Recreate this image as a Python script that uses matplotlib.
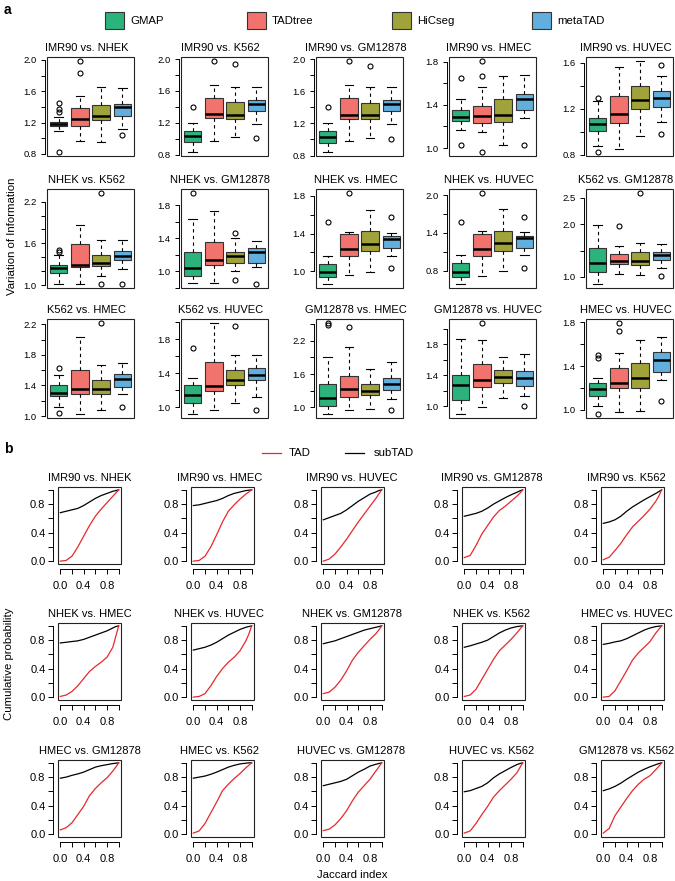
import numpy as np
import matplotlib.pyplot as plt
from matplotlib.patches import Rectangle
from matplotlib.lines import Line2D

plt.rcParams['font.family'] = ['Liberation Sans', 'DejaVu Sans']

W, H = 675, 881

# ---------------- panel a data ----------------
methods = ['GMAP', 'TADtree', 'HiCseg', 'metaTAD']
method_colors = ['#2bb37b', '#f2736d', '#a0a23a', '#62aedc']

pairs_a = ['IMR90 vs. NHEK', 'IMR90 vs. K562', 'IMR90 vs. GM12878', 'IMR90 vs. HMEC', 'IMR90 vs. HUVEC',
           'NHEK vs. K562', 'NHEK vs. GM12878', 'NHEK vs. HMEC', 'NHEK vs. HUVEC', 'K562 vs. GM12878',
           'K562 vs. HMEC', 'K562 vs. HUVEC', 'GM12878 vs. HMEC', 'GM12878 vs. HUVEC', 'HMEC vs. HUVEC']

# box stats per panel: [lower whisker, q1, median, q3, upper whisker]
gmap_box = [[1.09, 1.154, 1.179, 1.213, 1.276], [0.83, 0.955, 1.03, 1.095, 1.20], [0.84, 0.96, 1.035, 1.10, 1.21],
            [1.17, 1.253, 1.29, 1.351, 1.45], [0.878, 1.009, 1.07, 1.12, 1.27],
            [1.01, 1.168, 1.24, 1.288, 1.427], [0.855, 0.936, 1.04, 1.229, 1.63], [0.86, 0.937, 0.99, 1.078, 1.166],
            [0.583, 0.705, 0.774, 0.917, 1.049], [0.86, 1.095, 1.272, 1.544, 1.98],
            [1.122, 1.262, 1.306, 1.40, 1.537], [0.914, 1.051, 1.137, 1.265, 1.343], [0.87, 1.02, 1.167, 1.425, 1.905],
            [0.893, 1.081, 1.274, 1.402, 1.873], [1.03, 1.129, 1.189, 1.241, 1.289]]
gmap_out = [[1.45, 1.37, 1.34, 0.82], [1.40], [1.40], [1.65, 1.03], [1.29, 0.82],
            [1.51, 1.48], [1.95], [1.52], [1.577], [],
            [1.624, 1.035], [1.695], [2.53, 2.48], [], [1.505, 1.475, 0.958]]

tadtree_box = [[0.97, 1.15, 1.24, 1.39, 1.545], [0.975, 1.255, 1.305, 1.515, 1.675], [0.975, 1.255, 1.31, 1.515, 1.675],
               [1.144, 1.229, 1.296, 1.388, 1.565], [0.85, 1.076, 1.155, 1.31, 1.565],
               [1.01, 1.264, 1.288, 1.595, 1.87], [0.855, 1.076, 1.137, 1.358, 1.73], [0.954, 1.166, 1.236, 1.395, 1.42],
               [0.721, 1.038, 1.144, 1.382, 1.434], [1.05, 1.253, 1.30, 1.443, 1.59],
               [1.022, 1.284, 1.349, 1.598, 2.034], [0.961, 1.195, 1.254, 1.531, 1.995], [0.945, 1.185, 1.333, 1.573, 2.09],
               [0.987, 1.252, 1.342, 1.543, 1.856], [0.979, 1.195, 1.241, 1.379, 1.52]]
tadtree_out = [[1.99, 1.83], [1.98], [1.98], [1.81, 1.67, 0.96], [],
               [], [], [1.835], [2.04], [1.97],
               [], [], [2.46], [2.078], [1.797, 1.722]]

hicseg_box = [[0.95, 1.23, 1.29, 1.43, 1.66], [1.02, 1.25, 1.30, 1.46, 1.65], [1.02, 1.25, 1.30, 1.455, 1.65],
              [1.03, 1.244, 1.305, 1.458, 1.67], [0.96, 1.20, 1.28, 1.40, 1.62],
              [1.13, 1.274, 1.32, 1.427, 1.65], [1.0, 1.10, 1.18, 1.229, 1.40], [0.996, 1.21, 1.29, 1.43, 1.65],
              [0.795, 1.112, 1.234, 1.434, 1.773], [1.04, 1.228, 1.30, 1.475, 1.64],
              [1.079, 1.284, 1.358, 1.467, 1.663], [1.051, 1.258, 1.324, 1.441, 1.617], [0.964, 1.222, 1.296, 1.425, 1.70],
              [1.107, 1.30, 1.372, 1.466, 1.629], [0.988, 1.198, 1.289, 1.424, 1.64]]
hicseg_out = [[], [1.94], [1.91], [], [],
              [2.33, 1.02], [1.46, 0.89], [], [], [2.60],
              [2.22], [1.96], [], [], []]

metatad_box = [[1.12, 1.29, 1.40, 1.44, 1.64], [1.19, 1.35, 1.44, 1.49, 1.65], [1.19, 1.35, 1.44, 1.49, 1.65],
               [1.275, 1.357, 1.455, 1.50, 1.675], [1.085, 1.216, 1.295, 1.358, 1.49],
               [1.225, 1.355, 1.42, 1.49, 1.65], [1.048, 1.10, 1.23, 1.277, 1.37], [1.166, 1.243, 1.34, 1.377, 1.405],
               [1.049, 1.165, 1.323, 1.355, 1.408], [1.165, 1.323, 1.418, 1.475, 1.62],
               [1.284, 1.384, 1.48, 1.554, 1.698], [1.121, 1.324, 1.382, 1.46, 1.609], [1.148, 1.314, 1.425, 1.536, 1.813],
               [1.124, 1.265, 1.364, 1.449, 1.672], [1.271, 1.349, 1.451, 1.526, 1.662]]
metatad_out = [[1.04], [1.01], [1.01], [1.03], [1.58, 0.983],
               [1.01], [0.84], [1.58, 1.03], [1.656, 0.837], [1.02],
               [1.118], [0.965], [0.945], [0.996], [1.078]]

# y axis ticks of panel a: step between ticks and the values that carry a label
ytick_step_a = [0.2, 0.2, 0.2, 0.2, 0.2, 0.2, 0.2, 0.2, 0.3, 0.5, 0.2, 0.2, 0.3, 0.2, 0.2]
ytick_lab_a = [[0.8, 1.2, 1.6, 2.0], [0.8, 1.2, 1.6, 2.0], [0.8, 1.2, 1.6, 2.0], [1.0, 1.4, 1.8], [0.8, 1.2, 1.6],
               [1.0, 1.6, 2.2], [1.0, 1.4, 1.8], [1.0, 1.4, 1.8], [0.8, 1.4, 2.0], [1.0, 2.0, 2.5],
               [1.0, 1.4, 1.8, 2.2], [1.0, 1.4, 1.8], [1.0, 1.6, 2.2], [1.0, 1.4, 1.8], [1.0, 1.4, 1.8]]

# ---------------- panel b data ----------------
pairs_b = ['IMR90 vs. NHEK', 'IMR90 vs. HMEC', 'IMR90 vs. HUVEC', 'IMR90 vs. GM12878', 'IMR90 vs. K562',
           'NHEK vs. HMEC', 'NHEK vs. HUVEC', 'NHEK vs. GM12878', 'NHEK vs. K562', 'HMEC vs. HUVEC',
           'HMEC vs. GM12878', 'HMEC vs. K562', 'HUVEC vs. GM12878', 'HUVEC vs. K562', 'GM12878 vs. K562']

jaccard = [0.0, 0.1, 0.2, 0.3, 0.4, 0.5, 0.6, 0.7, 0.8, 0.9, 0.95, 1.0]

tad_cdf = [[0.0, 0.01, 0.07, 0.20, 0.35, 0.50, 0.63, 0.73, 0.82, 0.91, 0.955, 1.0],
           [0.0, 0.01, 0.07, 0.20, 0.37, 0.55, 0.70, 0.79, 0.87, 0.94, 0.97, 1.0],
           [0.0, 0.03, 0.10, 0.20, 0.31, 0.43, 0.55, 0.66, 0.77, 0.88, 0.94, 1.0],
           [0.05, 0.08, 0.22, 0.38, 0.50, 0.62, 0.71, 0.77, 0.84, 0.91, 0.95, 1.0],
           [0.02, 0.055, 0.15, 0.25, 0.37, 0.48, 0.56, 0.64, 0.73, 0.84, 0.91, 1.0],
           [0.01, 0.03, 0.08, 0.16, 0.26, 0.36, 0.43, 0.49, 0.56, 0.70, 0.85, 1.0],
           [0.0, 0.01, 0.05, 0.16, 0.29, 0.40, 0.49, 0.56, 0.65, 0.79, 0.88, 1.0],
           [0.05, 0.07, 0.14, 0.24, 0.37, 0.52, 0.63, 0.72, 0.81, 0.89, 0.94, 1.0],
           [0.01, 0.03, 0.11, 0.25, 0.39, 0.53, 0.65, 0.73, 0.81, 0.90, 0.95, 1.0],
           [0.0, 0.01, 0.09, 0.23, 0.37, 0.52, 0.62, 0.70, 0.78, 0.90, 0.95, 1.0],
           [0.06, 0.09, 0.16, 0.275, 0.39, 0.54, 0.64, 0.72, 0.79, 0.885, 0.94, 1.0],
           [0.015, 0.045, 0.15, 0.30, 0.45, 0.61, 0.70, 0.78, 0.85, 0.93, 0.965, 1.0],
           [0.05, 0.07, 0.13, 0.22, 0.33, 0.47, 0.59, 0.68, 0.77, 0.885, 0.94, 1.0],
           [0.015, 0.045, 0.15, 0.275, 0.39, 0.52, 0.61, 0.69, 0.77, 0.86, 0.93, 1.0],
           [0.015, 0.08, 0.26, 0.38, 0.50, 0.61, 0.70, 0.77, 0.82, 0.905, 0.95, 1.0]]

subtad_cdf = [[0.68, 0.70, 0.72, 0.74, 0.78, 0.83, 0.88, 0.92, 0.95, 0.98, 0.99, 1.0],
              [0.78, 0.79, 0.81, 0.83, 0.85, 0.88, 0.92, 0.95, 0.97, 0.99, 0.995, 1.0],
              [0.58, 0.61, 0.64, 0.67, 0.72, 0.78, 0.84, 0.89, 0.94, 0.97, 0.99, 1.0],
              [0.63, 0.65, 0.67, 0.70, 0.745, 0.80, 0.845, 0.89, 0.93, 0.965, 0.985, 1.0],
              [0.53, 0.55, 0.58, 0.63, 0.70, 0.76, 0.81, 0.86, 0.905, 0.95, 0.975, 1.0],
              [0.76, 0.77, 0.78, 0.79, 0.81, 0.84, 0.87, 0.90, 0.93, 0.97, 0.99, 1.0],
              [0.66, 0.68, 0.70, 0.73, 0.77, 0.82, 0.87, 0.91, 0.95, 0.98, 0.99, 1.0],
              [0.75, 0.77, 0.79, 0.82, 0.85, 0.88, 0.91, 0.94, 0.96, 0.98, 0.99, 1.0],
              [0.70, 0.72, 0.745, 0.77, 0.80, 0.85, 0.90, 0.94, 0.97, 0.99, 0.995, 1.0],
              [0.74, 0.755, 0.775, 0.79, 0.82, 0.86, 0.90, 0.94, 0.97, 0.99, 0.995, 1.0],
              [0.785, 0.80, 0.825, 0.845, 0.87, 0.905, 0.94, 0.96, 0.975, 0.99, 0.995, 1.0],
              [0.785, 0.80, 0.815, 0.84, 0.87, 0.905, 0.94, 0.965, 0.985, 0.995, 1.0, 1.0],
              [0.68, 0.70, 0.72, 0.74, 0.77, 0.82, 0.87, 0.91, 0.955, 0.98, 0.99, 1.0],
              [0.595, 0.61, 0.64, 0.67, 0.72, 0.79, 0.845, 0.89, 0.935, 0.975, 0.99, 1.0],
              [0.61, 0.635, 0.67, 0.715, 0.77, 0.82, 0.87, 0.91, 0.945, 0.975, 0.99, 1.0]]

cdf_ticks = [0.0, 0.2, 0.4, 0.6, 0.8, 1.0]
cdf_labels = [0.0, 0.4, 0.8]
tad_color = '#e8282c'


def px_axes(left, top, w, h):
    return [left / W, 1 - (top + h) / H, w / W, h / H]


def r_frame(ax, lw=0.8):
    # closed box like R's box(), axis lines drawn separately
    for s in ax.spines.values():
        s.set_visible(False)
    ax.add_patch(Rectangle((0, 0), 1, 1, transform=ax.transAxes, fill=False,
                           lw=lw, ec='#222222', clip_on=False, zorder=5))


fig = plt.figure(figsize=(W / 100, H / 100), dpi=100)

# ---------------- panel a ----------------
a_left = [47, 181, 316, 449, 586]
a_top = [57, 189, 319]
all_box = [gmap_box, tadtree_box, hicseg_box, metatad_box]
all_out = [gmap_out, tadtree_out, hicseg_out, metatad_out]

for k in range(15):
    ax = fig.add_axes(px_axes(a_left[k % 5], a_top[k // 5], 87, 99))
    stats = []
    vals = []
    for m in range(4):
        b = all_box[m][k]
        fl = all_out[m][k]
        stats.append(dict(whislo=b[0], q1=b[1], med=b[2], q3=b[3], whishi=b[4], fliers=fl))
        vals += b + fl
    bp = ax.bxp(stats, positions=[1, 2, 3, 4], widths=0.82, patch_artist=True,
                boxprops=dict(edgecolor='#333333', linewidth=0.8),
                medianprops=dict(color='black', linewidth=1.8),
                whiskerprops=dict(color='black', linewidth=0.8, linestyle=(0, (3, 3))),
                capprops=dict(color='black', linewidth=0.8),
                flierprops=dict(marker='o', markerfacecolor='none', markeredgecolor='black',
                                markersize=3.6, markeredgewidth=0.8))
    for patch, c in zip(bp['boxes'], method_colors):
        patch.set_facecolor(c)
    lo, hi = min(vals), max(vals)
    pad = 0.04 * (hi - lo)
    ax.set_ylim(lo - pad, hi + pad)
    ax.set_xlim(0.45, 4.55)
    ax.set_xticks([])

    step = ytick_step_a[k]
    labs = ytick_lab_a[k]
    ticks = [round(labs[0] + n * step, 3) for n in range(-6, 20)]
    ticks = [t for t in ticks if lo - pad <= t <= hi + pad]
    ax.set_yticks(ticks)
    ax.set_yticklabels(['%.1f' % t if any(abs(t - l) < 1e-6 for l in labs) else '' for t in ticks])
    r_frame(ax)
    ax.spines['left'].set_visible(True)
    ax.spines['left'].set_position(('outward', 1.5))
    ax.spines['left'].set_bounds(ticks[0], ticks[-1])
    ax.spines['left'].set_linewidth(0.7)
    ax.tick_params(axis='y', direction='out', length=3, width=0.7, pad=3, labelsize=6.8)
    ax.set_title(pairs_a[k], fontsize=8.0, pad=4, x=0.5 - 4 / 87)

# legend of panel a
leg_x = [105, 247, 392, 532]
for x, name, c in zip(leg_x, methods, method_colors):
    fig.add_artist(Rectangle((x / W, 1 - 29 / H), 19 / W, 17 / H, transform=fig.transFigure,
                             fc=c, ec='#333333', lw=0.8))
    fig.text((x + 25) / W, 1 - 21 / H, name, fontsize=8.2, va='center', ha='left')

fig.text(4 / W, 1 - 10 / H, 'a', fontsize=10, fontweight='bold', va='center')
fig.text(12 / W, 1 - 236 / H, 'Variation of Information', rotation=90, fontsize=8.2,
         va='center', ha='center')

# ---------------- panel b ----------------
b_left = [58, 191, 321, 462, 601]
b_top = [487, 623, 760]
b_title_shift = [0, -3, -1, -2, -6]
for k in range(15):
    ax = fig.add_axes(px_axes(b_left[k % 5], b_top[k // 5], 63, 77))
    ax.plot(jaccard, subtad_cdf[k], color='black', lw=0.9)
    ax.plot(jaccard, tad_cdf[k], color=tad_color, lw=0.9)
    ax.set_xlim(-0.04, 1.04)
    ax.set_ylim(-0.04, 1.04)
    ax.set_xticks(cdf_ticks)
    ax.set_yticks(cdf_ticks)
    lab = ['%.1f' % t if t in cdf_labels else '' for t in cdf_ticks]
    ax.set_xticklabels(lab)
    ax.set_yticklabels(lab)
    r_frame(ax)
    for side in ['left', 'bottom']:
        ax.spines[side].set_visible(True)
        ax.spines[side].set_position(('outward', 3.5))
        ax.spines[side].set_bounds(0, 1)
        ax.spines[side].set_linewidth(0.7)
    ax.tick_params(direction='out', length=3.5, width=0.7, labelsize=8)
    ax.tick_params(axis='x', pad=5)
    ax.tick_params(axis='y', pad=2)
    ax.set_title(pairs_b[k], fontsize=8.0, pad=4, x=0.5 + b_title_shift[k % 5] / 63)

fig.add_artist(Line2D([262 / W, 281 / W], [1 - 453 / H] * 2, color=tad_color, lw=0.9))
fig.text(289 / W, 1 - 453 / H, 'TAD', fontsize=8.2, va='center')
fig.add_artist(Line2D([345 / W, 364 / W], [1 - 453 / H] * 2, color='black', lw=0.9))
fig.text(374 / W, 1 - 453 / H, 'subTAD', fontsize=8.2, va='center')

fig.text(4 / W, 1 - 449 / H, 'b', fontsize=10, fontweight='bold', va='center')
fig.text(9 / W, 1 - 664 / H, 'Cumulative probability', rotation=90, fontsize=8.2,
         va='center', ha='center')
fig.text(352 / W, 1 - 875 / H, 'Jaccard index', fontsize=8.2, va='center', ha='center')

fig.savefig('out.png', dpi=100)
